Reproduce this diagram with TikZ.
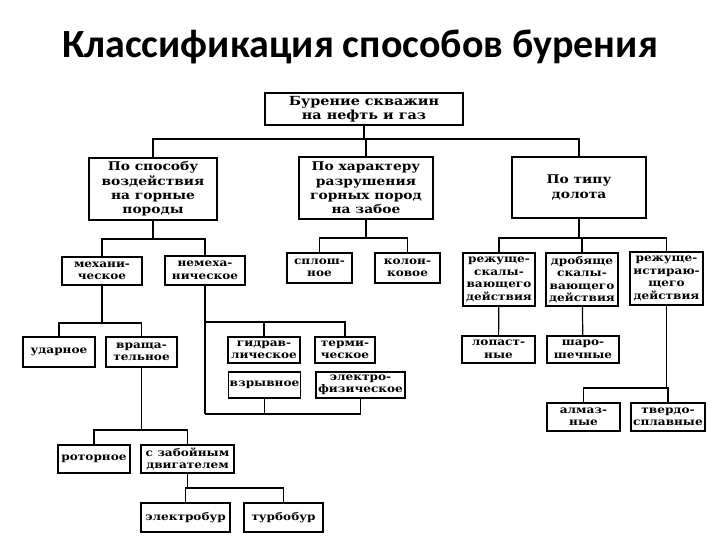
\documentclass[tikz,border=0pt]{standalone}
\usepackage{fontspec}
\setmainfont{DejaVu Serif}
\newfontfamily\titlefont{Carlito}
\newfontfamily\boxfont[FakeStretch=1.15]{DejaVu Serif}
\usepackage{tikz}
\usetikzlibrary{positioning}

\begin{document}
\begin{tikzpicture}[
  x=1pt, y=-1pt,
  box/.style={draw, line width=1.2pt, inner sep=1pt, align=center, fill=white,
              font=\boxfont\bfseries\fontsize{10.5}{12.5}\selectfont},
  bigbox/.style={box, font=\boxfont\bfseries\fontsize{12}{14.3}\selectfont},
  conn/.style={line width=1.2pt}
]
  \useasboundingbox (0,0) rectangle (720,540);

  % Title
  \node[font=\titlefont\bfseries\fontsize{40}{44}\selectfont, anchor=base] (title) at (360,58)
    {Классификация способов бурения};

  % Root and first level
  \node[bigbox, font=\boxfont\bfseries\fontsize{12.5}{14}\selectfont,
        minimum width=198, minimum height=32] (root) at (364,109) {Бурение скважин\\на нефть и газ};
  \node[bigbox, minimum width=128, minimum height=62] (sposob) at (153,189) {По способу\\воздействия\\на горные\\породы};
  \node[bigbox, minimum width=134, minimum height=62] (harakter) at (366,188) {По характеру\\разрушения\\горных пород\\на забое};
  \node[bigbox, minimum width=134, minimum height=61] (tip) at (579,187.5) {По типу\\долота};

  \coordinate (bus0) at (364,139);
  \draw[conn] (root) -- (bus0);
  \draw[conn] (bus0) -| (sposob);
  \draw[conn] (bus0) -| (harakter);
  \draw[conn] (bus0) -| (tip);

  % По способу воздействия
  \node[box, minimum width=80, minimum height=28] (meh) at (102,271) {механи-\\ческое};
  \node[box, minimum width=80, minimum height=29] (nemeh) at (205,270.5) {немеха-\\ническое};

  \coordinate (bus1) at (153,239);
  \draw[conn] (sposob) -- (bus1);
  \draw[conn] (bus1) -| (meh);
  \draw[conn] (bus1) -| (nemeh);

  \node[box, minimum width=72, minimum height=30] (udar) at (59,352) {ударное};
  \node[box, minimum width=71, minimum height=30] (vrash) at (141.5,352) {враща-\\тельное};

  \coordinate (bus2) at (102,323);
  \draw[conn] (meh) -- (bus2);
  \draw[conn] (bus2) -| (udar);
  \draw[conn] (bus2) -| (vrash);

  \node[box, minimum width=72, minimum height=28] (rotor) at (94,459) {роторное};
  \node[box, minimum width=93, minimum height=28] (zaboy) at (187.5,459) {с забойным\\двигателем};

  \coordinate (bus3) at (141.5,430);
  \draw[conn] (vrash) -- (bus3);
  \draw[conn] (bus3) -| (rotor);
  \draw[conn] (bus3) -| (zaboy);

  \node[box, minimum width=89, minimum height=29] (elbur) at (185.5,517.5) {электробур};
  \node[box, minimum width=79, minimum height=29] (turbo) at (283.5,517.5) {турбобур};

  \coordinate (bus4) at (187.5,488);
  \draw[conn] (zaboy) -- (bus4);
  \draw[conn] (bus4) -| (elbur);
  \draw[conn] (bus4) -| (turbo);

  % немеханическое
  \node[box, minimum width=72, minimum height=26] (gidr) at (264,350) {гидрав-\\лическое};
  \node[box, minimum width=60, minimum height=26] (term) at (345,350) {терми-\\ческое};
  \node[box, minimum width=71, minimum height=26] (vzryv) at (264.5,385) {взрывное};
  \node[box, minimum width=89, minimum height=26] (elfiz) at (360.5,385) {электро-\\физическое};

  \coordinate (gtop) at (205,322);
  \coordinate (gbot) at (205,414);
  \draw[conn] (nemeh) -- (gbot);
  \draw[conn] (gtop) -| (gidr);
  \draw[conn] (gtop) -| (term);
  \draw[conn] (gbot) -| (vzryv);
  \draw[conn] (gbot) -| (elfiz);

  % По характеру разрушения
  \node[box, minimum width=65, minimum height=30] (splosh) at (319.5,268) {сплош-\\ное};
  \node[box, minimum width=65, minimum height=30] (kolon) at (407.5,268) {колон-\\ковое};

  \coordinate (bus5) at (366,238);
  \draw[conn] (harakter) -- (bus5);
  \draw[conn] (bus5) -| (splosh);
  \draw[conn] (bus5) -| (kolon);

  % По типу долота
  \node[box, minimum width=72, minimum height=53] (rezsk) at (499,279.5) {режуще-\\скалы-\\вающего\\действия};
  \node[box, minimum width=72, minimum height=53] (drob) at (582,279.5) {дробяще\\скалы-\\вающего\\действия};
  \node[box, minimum width=73, minimum height=53] (rezist) at (666.5,278.5) {режуще-\\истираю-\\щего\\действия};

  \coordinate (bus6) at (579,238);
  \draw[conn] (tip) -- (bus6);
  \draw[conn] (bus6) -| (rezsk);
  \draw[conn] (bus6) -| (drob);
  \draw[conn] (bus6) -| (rezist);

  \node[box, minimum width=73, minimum height=27] (lopast) at (498.5,349.5) {лопаст-\\ные};
  \node[box, minimum width=72, minimum height=27] (sharo) at (583,349.5) {шаро-\\шечные};
  \draw[conn] (rezsk) -- (lopast);
  \draw[conn] (drob) -- (sharo);

  \node[box, minimum width=73, minimum height=28] (almaz) at (583.5,417) {алмаз-\\ные};
  \node[box, minimum width=74, minimum height=28] (tverd) at (668,417) {твердо-\\сплавные};

  \coordinate (bus7) at (666.5,388);
  \draw[conn] (rezist) -- (bus7);
  \draw[conn] (bus7) -| (almaz);
  \draw[conn] (bus7) -| (tverd);
\end{tikzpicture}
\end{document}
